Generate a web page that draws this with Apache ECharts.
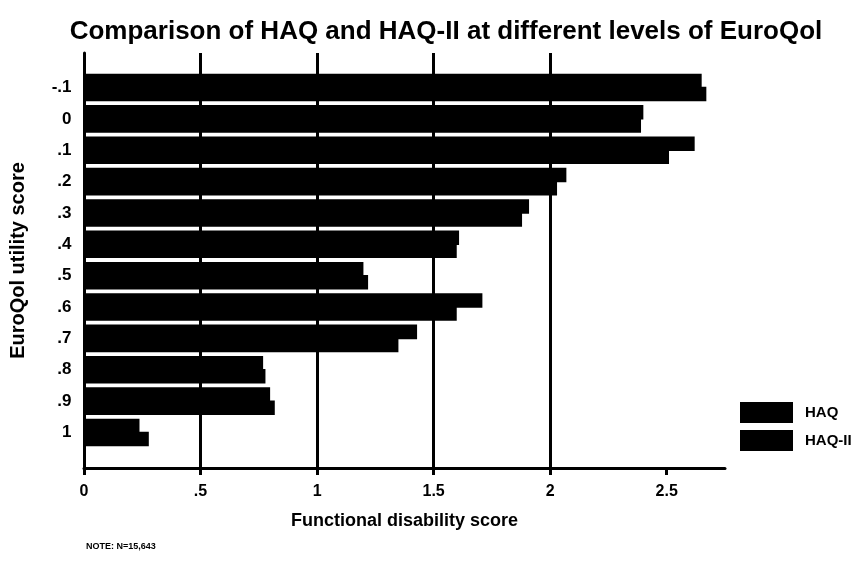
<!DOCTYPE html>
<html>
<head>
<meta charset="utf-8">
<script src="https://cdn.jsdelivr.net/npm/echarts@6/dist/echarts.min.js"></script>
<style>
  html, body { margin: 0; padding: 0; background: #fff; }
  #chart { width: 861px; height: 563px; }
</style>
</head>
<body>
<div id="chart"></div>
<script>
const categories = ['-.1', '0', '.1', '.2', '.3', '.4', '.5', '.6', '.7', '.8', '.9', '1'];
const haq   = [2.65, 2.40, 2.62, 2.07, 1.91, 1.61, 1.20, 1.71, 1.43, 0.77, 0.80, 0.24];
const haq2  = [2.67, 2.39, 2.51, 2.03, 1.88, 1.60, 1.22, 1.60, 1.35, 0.78, 0.82, 0.28];
const xTicks = [0, 0.5, 1, 1.5, 2, 2.5];
const xTickLabels = ['0', '.5', '1', '1.5', '2', '2.5'];

const FONT = "'Liberation Sans', Arial, sans-serif";
const chart = echarts.init(document.getElementById('chart'), null, { renderer: 'canvas' });

chart.setOption({
  backgroundColor: '#fff',
  animation: false,
  textStyle: { fontFamily: FONT, color: '#000', fontWeight: 'bold' },
  title: {
    text: 'Comparison of HAQ and HAQ-II at different levels of EuroQol',
    left: 441, top: 14, textAlign: 'center',
    textStyle: { fontFamily: FONT, fontSize: 26, fontWeight: 'bold', color: '#000' }
  },
  legend: {
    orient: 'vertical', left: 735, top: 397,
    itemWidth: 53, itemHeight: 21, itemGap: 7,
    icon: 'rect',
    textStyle: { fontFamily: FONT, fontSize: 15, fontWeight: 'bold', color: '#000', padding: [0, 0, 0, 7] },
    data: ['HAQ', 'HAQ-II']
  },
  graphic: [{
    type: 'text', left: 86, top: 542,
    style: { text: 'NOTE: N=15,643', font: "bold 9px " + FONT, fill: '#000' }
  }],
  grid: [
    { left: 83.5, right: 136, top: 71.8, bottom: 114.8 },
    { left: 83.5, right: 136, top: 53, bottom: 95 }
  ],
  xAxis: [
    { gridIndex: 0, type: 'value', min: 0, max: 2.75, show: false },
    {
      gridIndex: 1, type: 'value', min: 0, max: 2.75, interval: 0.5,
      name: 'Functional disability score', nameLocation: 'middle', nameGap: 44,
      nameTextStyle: { fontFamily: FONT, fontSize: 18, fontWeight: 'bold', color: '#000' },
      axisLine: { show: true, lineStyle: { color: '#000', width: 3 } },
      axisTick: { show: true, length: 7, lineStyle: { color: '#000', width: 3 }, customValues: xTicks },
      axisLabel: {
        color: '#000', fontSize: 16, fontWeight: 'bold', fontFamily: FONT, margin: 16,
        customValues: xTicks,
        formatter: v => { const i = xTicks.indexOf(v); return i >= 0 ? xTickLabels[i] : ''; }
      },
      splitLine: { show: true, showMinLine: false, showMaxLine: false, lineStyle: { color: '#000', width: 3 } }
    }
  ],
  yAxis: [
    {
      gridIndex: 0, type: 'category', inverse: true, data: categories,
      axisLine: { show: false }, axisTick: { show: false },
      axisLabel: { color: '#000', fontSize: 17, fontWeight: 'bold', fontFamily: FONT, margin: 12 }
    },
    {
      gridIndex: 1, type: 'value', min: 0, max: 1,
      name: 'EuroQol utility score', nameLocation: 'middle', nameGap: 56, nameRotate: 90,
      nameTextStyle: { fontFamily: FONT, fontSize: 20, fontWeight: 'bold', color: '#000' },
      axisLine: { show: true, onZero: false, lineStyle: { color: '#000', width: 3 } },
      axisTick: { show: false }, axisLabel: { show: false }, splitLine: { show: false }
    }
  ],
  series: [
    {
      name: 'HAQ', type: 'bar', xAxisIndex: 0, yAxisIndex: 0, data: haq,
      itemStyle: { color: '#000' }, barGap: '-10%', barCategoryGap: '12%'
    },
    {
      name: 'HAQ-II', type: 'bar', xAxisIndex: 0, yAxisIndex: 0, data: haq2,
      itemStyle: { color: '#000' }, barGap: '-10%', barCategoryGap: '12%'
    }
  ]
});
</script>
</body>
</html>
